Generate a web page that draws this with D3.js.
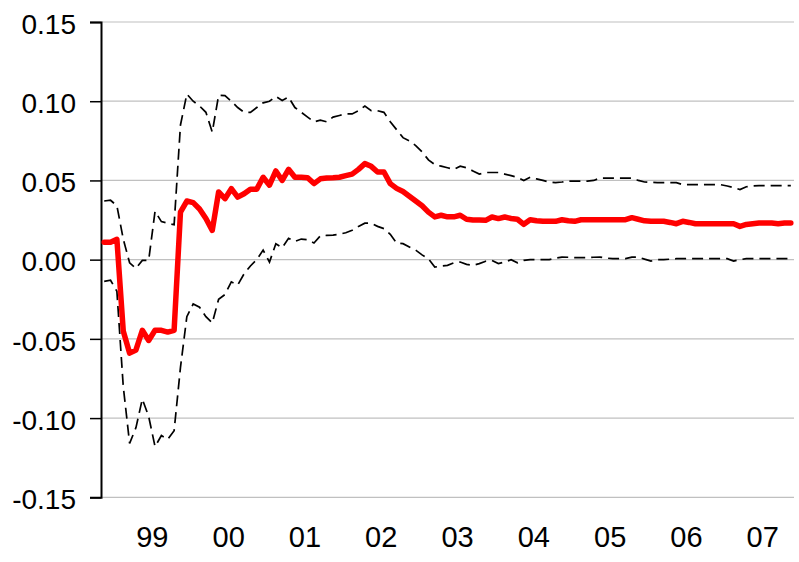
<!DOCTYPE html>
<html>
<head>
<meta charset="utf-8">
<script src="https://cdn.jsdelivr.net/npm/d3@7"></script>
<style>
  body { margin: 0; background: #fff; }
  text { font-family: Arial, "Liberation Sans", sans-serif; fill: #000; }
</style>
</head>
<body>
<div id="container"></div>
<script>

// monthly values, first one is May 1998
const mid = [0.011, 0.011, 0.0128, -0.045, -0.059, -0.057, -0.0446, -0.051, -0.0446, -0.0446,
  -0.0457, -0.0446, 0.030, 0.037, 0.036, 0.032, 0.026, 0.0185, 0.0427, 0.0385,
  0.0448, 0.0395, 0.0416, 0.0445, 0.0445, 0.052, 0.047, 0.056, 0.050, 0.057,
  0.052, 0.052, 0.0517, 0.048, 0.051, 0.0515, 0.0517, 0.052, 0.053, 0.054,
  0.057, 0.0606, 0.0589, 0.0553, 0.0553, 0.048, 0.045, 0.043, 0.040, 0.037,
  0.034, 0.030, 0.027, 0.028, 0.027, 0.027, 0.028, 0.0255, 0.025, 0.025,
  0.0248, 0.0269, 0.0259, 0.0269, 0.026, 0.0255, 0.0223, 0.0252, 0.0245, 0.0242,
  0.0242, 0.0242, 0.0252, 0.0245, 0.0242, 0.0252, 0.0252, 0.0252, 0.0252, 0.0252,
  0.0252, 0.0252, 0.0252, 0.0265, 0.0255, 0.0245, 0.0242, 0.0242, 0.0242, 0.0235,
  0.0227, 0.0242, 0.0235, 0.0227, 0.0227, 0.0227, 0.0227, 0.0227, 0.0227, 0.0227,
  0.021, 0.0222, 0.0227, 0.0231, 0.0231, 0.0231, 0.0227, 0.0231, 0.0231];

const upper = [0.037, 0.0375, 0.034, 0.013, -0.002, -0.0055, -0.0005, -0.0004, 0.0305, 0.024,
  0.023, 0.022, 0.085, 0.1045, 0.100, 0.097, 0.093, 0.0805, 0.1037, 0.1035,
  0.100, 0.096, 0.093, 0.093, 0.096, 0.099, 0.100, 0.103, 0.1005, 0.1026,
  0.096, 0.093, 0.090, 0.087, 0.088, 0.087, 0.090, 0.091, 0.092, 0.092,
  0.094, 0.097, 0.094, 0.094, 0.093, 0.087, 0.082, 0.077, 0.075, 0.072,
  0.068, 0.063, 0.060, 0.059, 0.058, 0.057, 0.059, 0.058, 0.056, 0.054,
  0.055, 0.055, 0.055, 0.054, 0.053, 0.052, 0.050, 0.052, 0.051, 0.050,
  0.049, 0.0486, 0.049, 0.0496, 0.0496, 0.0496, 0.0496, 0.050, 0.0515, 0.0515,
  0.0515, 0.0515, 0.0515, 0.0515, 0.050, 0.049, 0.0488, 0.0486, 0.0486, 0.0486,
  0.0486, 0.0473, 0.0473, 0.0473, 0.0473, 0.0473, 0.0473, 0.0473, 0.0465, 0.0455,
  0.0442, 0.046, 0.0465, 0.0467, 0.0467, 0.0467, 0.0467, 0.0467, 0.0467];

const lower = [-0.0137, -0.013, -0.020, -0.080, -0.116, -0.106, -0.088, -0.099, -0.118, -0.111,
  -0.1134, -0.108, -0.068, -0.036, -0.028, -0.030, -0.036, -0.040, -0.025, -0.022,
  -0.014, -0.016, -0.009, -0.004, 0.000, 0.006, -0.0015, 0.010, 0.0075, 0.0135,
  0.0115, 0.013, 0.0126, 0.0105, 0.015, 0.0153, 0.0155, 0.016, 0.017, 0.0185,
  0.021, 0.023, 0.023, 0.021, 0.0196, 0.016, 0.0105, 0.0101, 0.008, 0.006,
  0.003, 0.0005, -0.0047, -0.004, -0.0036, -0.002, -0.0015, -0.003, -0.0036, -0.0025,
  -0.001, -0.0005, -0.0025, -0.0015, 0.000, -0.002, -0.0005, 0.000, 0.000, 0.000,
  0.000, 0.001, 0.0016, 0.0015, 0.0013, 0.0013, 0.0013, 0.0015, 0.0016, 0.001,
  0.0006, 0.0006, 0.0006, 0.0016, 0.0016, 0.0003, -0.0009, 0.000, 0.000, 0.0003,
  0.0006, 0.0006, 0.0006, 0.0006, 0.0006, 0.0006, 0.0006, 0.0006, 0.0006, -0.0009,
  0.000, 0.0006, 0.0006, 0.0006, 0.0006, 0.0006, 0.0006, 0.0006, 0.0006];

const yearLabels = ["99", "00", "01", "02", "03", "04", "05", "06", "07"];
const yearStart = [8, 20, 32, 44, 56, 68, 80, 92, 104];   // month index of each January
const yTicks = [-0.15, -0.10, -0.05, 0.00, 0.05, 0.10, 0.15];
const yTickLabels = ["-0.15", "-0.10", "-0.05", "0.00", "0.05", "0.10", "0.15"];

const width = 799, height = 562;
const marginLeft = 101, plotRight = 794, plotTop = 22, plotBottom = 497.3;

const svg = d3.create("svg")
    .attr("width", width)
    .attr("height", height);

const x = d3.scaleLinear().domain([0, mid.length]).range([marginLeft, plotRight]);
const y = d3.scaleLinear().domain([-0.15, 0.15]).range([plotBottom, plotTop]);

// grid
svg.append("g").selectAll("line").data(yTicks).enter().append("line")
    .attr("x1", marginLeft).attr("x2", plotRight)
    .attr("y1", d => y(d)).attr("y2", d => y(d))
    .attr("stroke", "#c0c0c0")
    .attr("stroke-width", 1.2);

// y axis
const yAxis = svg.append("g")
    .attr("transform", `translate(${marginLeft},0)`)
    .call(d3.axisLeft(y).tickValues(yTicks).tickSize(11).tickPadding(14)
        .tickFormat((d, i) => yTickLabels[i]));
yAxis.select(".domain").attr("stroke", "#000").attr("stroke-width", 2);
yAxis.selectAll(".tick line").attr("stroke", "#000").attr("stroke-width", 1.5);
yAxis.selectAll("text").attr("font-size", 28).attr("font-family", "Arial, 'Liberation Sans', sans-serif")
    .attr("fill", "#000").attr("dy", "0.4em");

// x labels
const xAxis = svg.append("g")
    .attr("transform", `translate(0,${plotBottom})`)
    .call(d3.axisBottom(x).tickValues(yearStart).tickSize(0).tickPadding(29)
        .tickFormat((d, i) => yearLabels[i]));
xAxis.select(".domain").remove();
xAxis.selectAll("text").attr("font-size", 29).attr("font-family", "Arial, 'Liberation Sans', sans-serif")
    .attr("fill", "#000");

const line = d3.line()
    .x((d, i) => x(i + 0.5))
    .y(d => y(d));

svg.append("path").datum(upper)
    .attr("d", line).attr("fill", "none")
    .attr("stroke", "#000").attr("stroke-width", 1.7)
    .attr("stroke-dasharray", "11,6");

svg.append("path").datum(lower)
    .attr("d", line).attr("fill", "none")
    .attr("stroke", "#000").attr("stroke-width", 1.7)
    .attr("stroke-dasharray", "11,6");

svg.append("path").datum(mid)
    .attr("d", line).attr("fill", "none")
    .attr("stroke", "#ff0000").attr("stroke-width", 5.5)
    .attr("stroke-linejoin", "round").attr("stroke-linecap", "round");

container.append(svg.node());

</script>
</body>
</html>
